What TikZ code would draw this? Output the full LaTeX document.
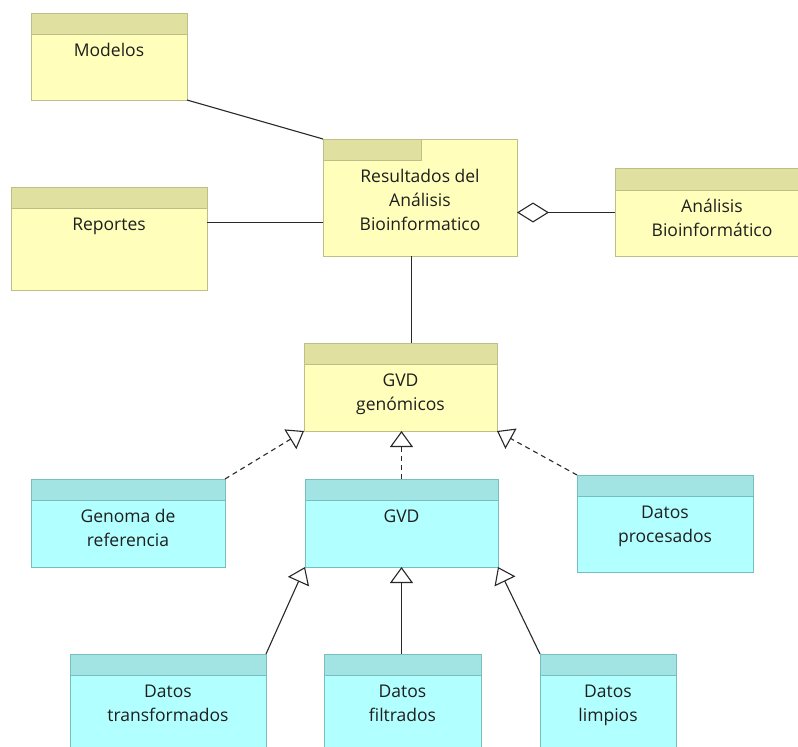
\documentclass[tikz,border=0pt]{standalone}
\usepackage{fontspec}
\setmainfont{Open Sans}
\usetikzlibrary{arrows.meta,calc}
\definecolor{ybody}{RGB}{255,255,187}
\definecolor{yhead}{RGB}{224,224,160}
\definecolor{yline}{RGB}{190,190,135}
\definecolor{cbody}{RGB}{178,255,255}
\definecolor{chead}{RGB}{162,228,228}
\definecolor{cline}{RGB}{120,190,190}
\definecolor{lnc}{RGB}{40,40,40}
\definecolor{txt}{RGB}{30,30,30}
\begin{document}
\begin{tikzpicture}[x=1pt,y=-1pt,
  box/.style={rectangle, inner sep=0pt, outer sep=0pt, anchor=north west, line width=1pt},
  ybox/.style={box, draw=yline, fill=ybody,
    path picture={
      \fill[yhead] (path picture bounding box.north west) rectangle ([yshift=-21.5pt]path picture bounding box.north east);
      \draw[yline, line width=1pt] ([yshift=-21.5pt]path picture bounding box.north west) -- ([yshift=-21.5pt]path picture bounding box.north east);}},
  ytab/.style={box, draw=yline, fill=ybody,
    path picture={
      \fill[yhead] (path picture bounding box.north west) rectangle ([xshift=98pt,yshift=-21pt]path picture bounding box.north west);
      \draw[yline, line width=1pt] ([yshift=-21pt]path picture bounding box.north west) -| ([xshift=98pt]path picture bounding box.north west);}},
  cbox/.style={box, draw=cline, fill=cbody,
    path picture={
      \fill[chead] (path picture bounding box.north west) rectangle ([yshift=-21.5pt]path picture bounding box.north east);
      \draw[cline, line width=1pt] ([yshift=-21.5pt]path picture bounding box.north west) -- ([yshift=-21.5pt]path picture bounding box.north east);}},
  lbl/.style={anchor=north, inner sep=0pt, align=center, text=txt, font=\fontsize{17.5}{24}\selectfont},
  conn/.style={draw=lnc, line width=1.1pt},
  dashconn/.style={conn, dash pattern=on 5pt off 4pt},
  gen/.style={-{Triangle[length=16pt, width=23pt, fill=white]}},
  agg/.style={-{Diamond[length=32pt, width=20pt, fill=white]}}
]
\useasboundingbox (0,0) rectangle (798,747);

% yellow entities
\node[ybox, minimum width=156pt, minimum height=87pt] (mod) at (31,13) {};
\node[ytab, minimum width=194pt, minimum height=117pt] (res) at (323,139) {};
\node[ybox, minimum width=196pt, minimum height=103pt] (rep) at (11,187) {};
\node[ybox, minimum width=194pt, minimum height=88pt] (ana) at (615,168.5) {};
\node[ybox, minimum width=193pt, minimum height=88pt] (gvdg) at (304,343) {};

% cyan entities
\node[cbox, minimum width=194pt, minimum height=88pt] (genref) at (31,479) {};
\node[cbox, minimum width=193pt, minimum height=88pt] (gvd) at (305,479) {};
\node[cbox, minimum width=176pt, minimum height=97pt] (proc) at (577,475) {};
\node[cbox, minimum width=196pt, minimum height=100pt] (trans) at (70,654) {};
\node[cbox, minimum width=157pt, minimum height=100pt] (filt) at (324,654) {};
\node[cbox, minimum width=136pt, minimum height=100pt] (limp) at (540,654) {};

% labels
\node[lbl] (mod-t) at ([yshift=-26.7pt]mod.north) {\strut Modelos};
\node[lbl] (res-t) at ([yshift=-26.7pt]res.north) {\strut Resultados del\\Análisis\\Bioinformatico};
\node[lbl] (rep-t) at ([yshift=-26.7pt]rep.north) {\strut Reportes};
\node[lbl] (ana-t) at ([yshift=-26.7pt]ana.north) {\strut Análisis\\Bioinformático};
\node[lbl] (gvdg-t) at ([yshift=-26.7pt]gvdg.north) {\strut GVD\\genómicos};
\node[lbl] (genref-t) at ([yshift=-26.7pt]genref.north) {\strut Genoma de\\referencia};
\node[lbl] (gvd-t) at ([yshift=-26.7pt]gvd.north) {\strut GVD};
\node[lbl] (proc-t) at ([yshift=-26.7pt]proc.north) {\strut Datos\\procesados};
\node[lbl] (trans-t) at ([yshift=-26.7pt]trans.north) {\strut Datos\\transformados};
\node[lbl] (filt-t) at ([yshift=-26.7pt]filt.north) {\strut Datos\\filtrados};
\node[lbl] (limp-t) at ([yshift=-26.7pt]limp.north) {\strut Datos\\limpios};

% attachment points on the results box
\coordinate (resR) at ($(res.north west)!0.71!(res.south west)$);
\coordinate (resB) at ($(res.south west)!0.455!(res.south east)$);

% associations
\draw[conn] (mod.south east) -- (res.north west);
\draw[conn] (resR -| rep.east) -- (resR);
\draw[conn, agg] (ana.west) -- (ana.west -| res.east);
\draw[conn] (resB) -- (resB |- gvdg.north);

% realizations (dashed) into GVD genómicos
\draw[dashconn, gen] (genref.north east) -- (gvdg.south west);
\draw[dashconn, gen] (gvd.north) -- (gvd.north |- gvdg.south);
\draw[dashconn, gen] (proc.north west) -- (gvdg.south east);

% generalizations into GVD
\draw[conn, gen] (trans.north east) -- (gvd.south west);
\draw[conn, gen] (filt.north -| gvd.south) -- (gvd.south);
\draw[conn, gen] (limp.north west) -- (gvd.south east);
\end{tikzpicture}
\end{document}
